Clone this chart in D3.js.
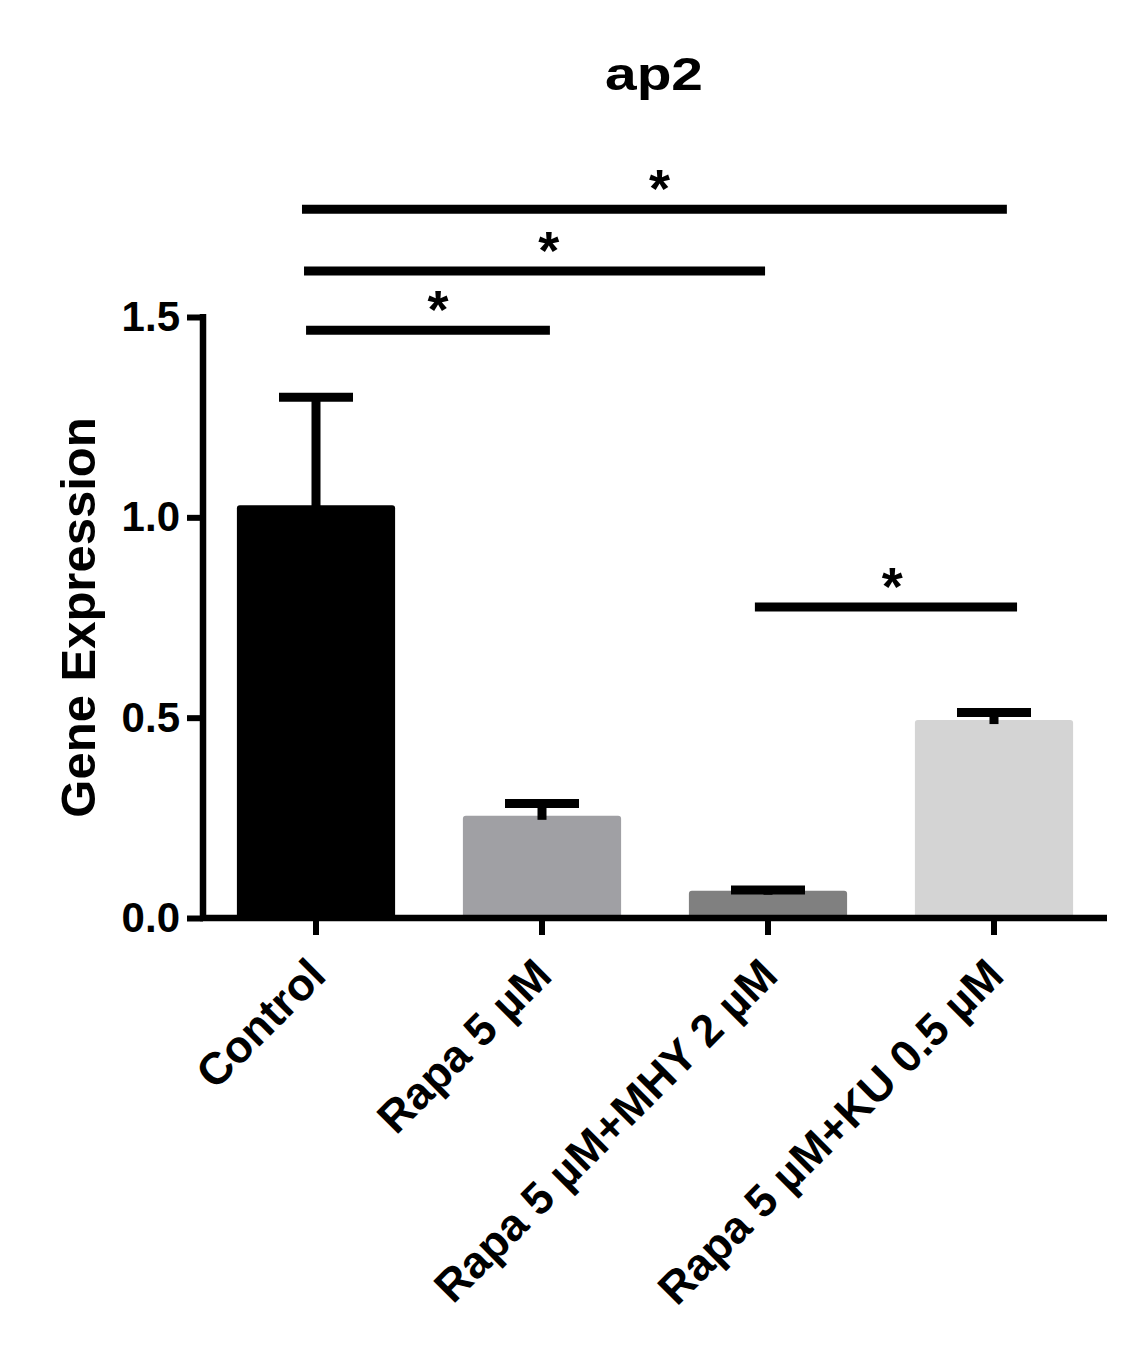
<!DOCTYPE html>
<html>
<head>
<meta charset="utf-8">
<script src="https://cdn.jsdelivr.net/npm/d3@7"></script>
<style>
  body { margin: 0; background: #fff; }
  text { font-family: "Liberation Sans", Arial, sans-serif; }
</style>
</head>
<body>
<div id="chart"></div>
<script>
// data
const categories = ["Control", "Rapa 5 µM", "Rapa 5 µM+MHY 2 µM", "Rapa 5 µM+KU 0.5 µM"];
const means = [1.03, 0.255, 0.068, 0.494];
const errors = [0.27, 0.031, 0.002, 0.019];
const barColors = ["#000000", "#a0a0a4", "#808080", "#d4d4d4"];
const yTicks = [0, 0.5, 1.0, 1.5];

// significance brackets (x in category-index units, y in data units)
const sigX1 = [-0.062, -0.053, -0.044, 1.942];
const sigX2 = [3.057, 1.987, 1.035, 3.102];
const sigY = [1.769, 1.615, 1.467, 0.776];
const sigStarX = [1.52, 1.03, 0.54, 2.55];
const sigLabels = ["*", "*", "*", "*"];

const width = 1134, height = 1357;
const plot = { left: 203, right: 1107, top: 317, bottom: 918 };

const svg = d3.select("#chart").append("svg")
    .attr("width", width)
    .attr("height", height);

const x = d3.scaleBand()
    .domain(categories)
    .range([plot.left, plot.right])
    .paddingInner(0.3)
    .paddingOuter(0.15);

const y = d3.scaleLinear()
    .domain([0, 1.5])
    .range([plot.bottom, plot.top]);

// index scale for the annotation lines
const xi = d3.scaleLinear()
    .domain([0, categories.length - 1])
    .range([x(categories[0]) + x.bandwidth() / 2,
            x(categories[categories.length - 1]) + x.bandwidth() / 2]);

//START bars
svg.selectAll(".bar")
    .data(categories)
    .enter()
    .append("rect")
    .attr("class", "bar")
    .attr("x", d => x(d))
    .attr("y", (d, i) => y(means[i]))
    .attr("width", x.bandwidth())
    .attr("height", (d, i) => y(0) - y(means[i]))
    .attr("rx", 3)
    .style("fill", (d, i) => barColors[i]);
//END bars

//START error bars
const err = svg.selectAll(".err")
    .data(categories)
    .enter()
    .append("g")
    .attr("class", "err");

err.append("line")
    .attr("x1", d => x(d) + x.bandwidth() / 2)
    .attr("x2", d => x(d) + x.bandwidth() / 2)
    .attr("y1", (d, i) => y(means[i]) + 4)
    .attr("y2", (d, i) => y(means[i] + errors[i]))
    .style("stroke", "#000")
    .style("stroke-width", 9);

err.append("line")
    .attr("x1", d => x(d) + x.bandwidth() / 2 - 37)
    .attr("x2", d => x(d) + x.bandwidth() / 2 + 37)
    .attr("y1", (d, i) => y(means[i] + errors[i]))
    .attr("y2", (d, i) => y(means[i] + errors[i]))
    .style("stroke", "#000")
    .style("stroke-width", 9);
//END error bars

//START axes
const yAxis = svg.append("g")
    .attr("transform", `translate(${plot.left}, 0)`)
    .call(d3.axisLeft(y).tickValues(yTicks).tickFormat(d3.format(".1f")).tickSize(16).tickPadding(7));

const xAxis = svg.append("g")
    .attr("transform", `translate(0, ${plot.bottom})`)
    .call(d3.axisBottom(x).tickSize(17).tickFormat(""));

[yAxis, xAxis].forEach(ax => {
    ax.select(".domain").remove();
    ax.selectAll(".tick line").style("stroke", "#000").style("stroke-width", 6);
});

yAxis.selectAll(".tick text")
    .style("font-size", "42px")
    .style("font-weight", "bold")
    .style("fill", "#000");

svg.append("line")
    .attr("x1", plot.left).attr("x2", plot.left)
    .attr("y1", y(1.5) - 3).attr("y2", y(0) + 3)
    .style("stroke", "#000").style("stroke-width", 6.5);

svg.append("line")
    .attr("x1", plot.left - 3).attr("x2", plot.right)
    .attr("y1", y(0)).attr("y2", y(0))
    .style("stroke", "#000").style("stroke-width", 6.5);

// rotated category labels
svg.selectAll(".xlab")
    .data(categories)
    .enter()
    .append("text")
    .attr("class", "xlab")
    .attr("transform", d => `translate(${x(d) + x.bandwidth() / 2 + 12}, 978) rotate(-45)`)
    .attr("text-anchor", "end")
    .style("font-size", "45px")
    .style("font-weight", "bold")
    .text(d => d);
//END axes

// y label
svg.append("text")
    .attr("transform", `translate(95, ${(plot.top + plot.bottom) / 2}) rotate(-90)`)
    .attr("text-anchor", "middle")
    .style("font-size", "49px")
    .style("font-weight", "bold")
    .text("Gene Expression");

// title
svg.append("text")
    .attr("x", 605)
    .attr("y", 90)
    .attr("textLength", 98)
    .attr("lengthAdjust", "spacingAndGlyphs")
    .style("font-size", "46px")
    .style("font-weight", "bold")
    .text("ap2");

//START significance
const sig = svg.selectAll(".sig")
    .data(sigY)
    .enter()
    .append("g")
    .attr("class", "sig");

sig.append("line")
    .attr("x1", (d, i) => xi(sigX1[i]))
    .attr("x2", (d, i) => xi(sigX2[i]))
    .attr("y1", d => y(d))
    .attr("y2", d => y(d))
    .style("stroke", "#000")
    .style("stroke-width", 9);

sig.append("text")
    .attr("x", (d, i) => xi(sigStarX[i]))
    .attr("y", d => y(d) - 2)
    .attr("text-anchor", "middle")
    .style("font-size", "54px")
    .style("font-weight", "bold")
    .text((d, i) => sigLabels[i]);
//END significance
</script>
</body>
</html>
